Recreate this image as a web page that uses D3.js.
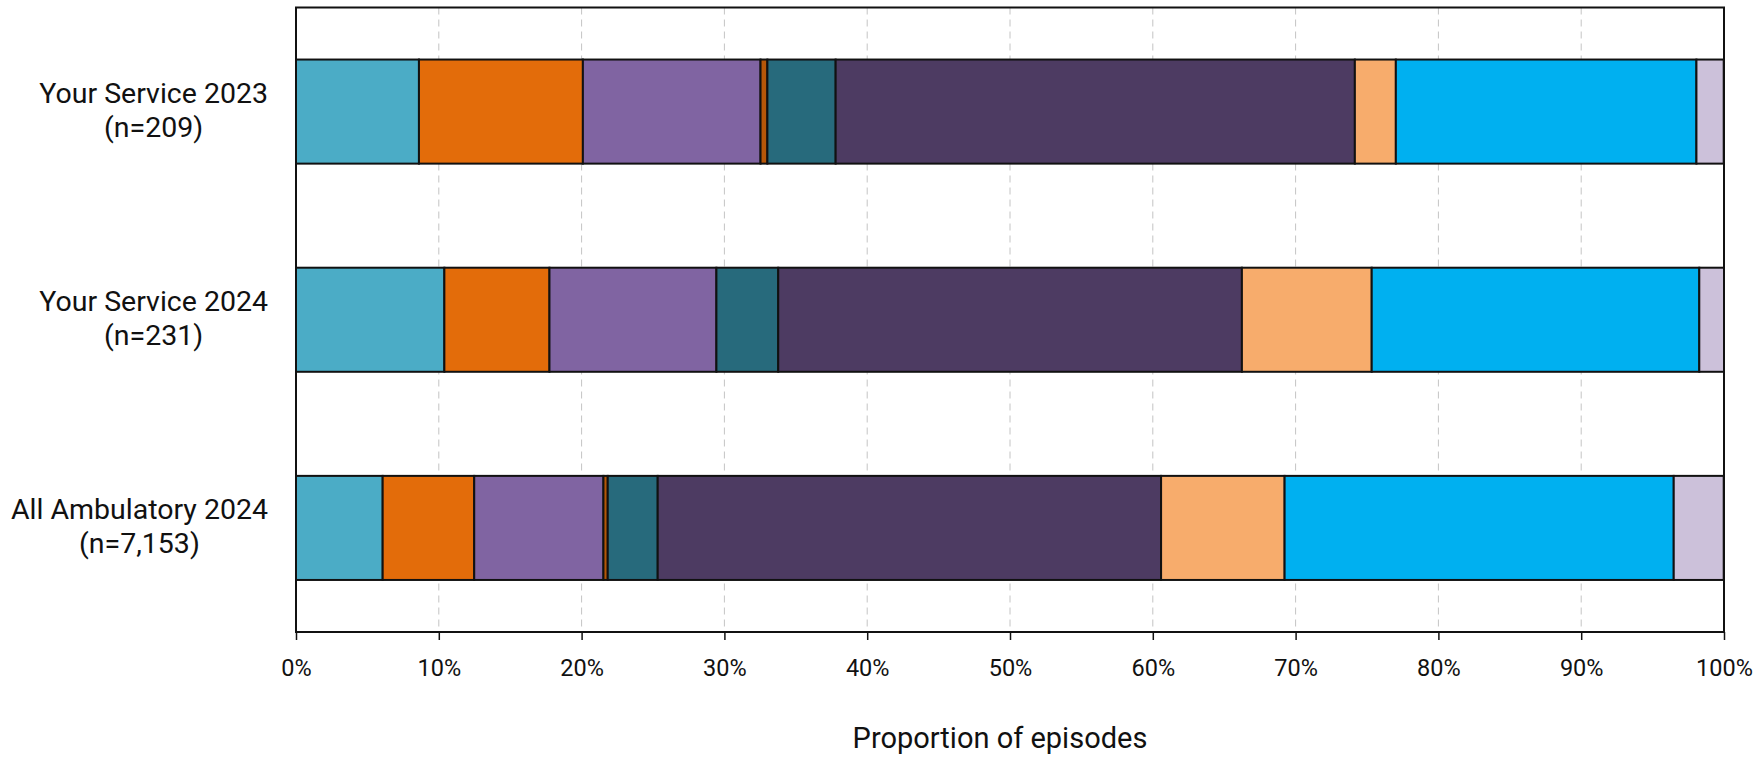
<!DOCTYPE html>
<html>
<head>
<meta charset="utf-8">
<script src="https://cdn.jsdelivr.net/npm/d3@7"></script>
<style>
  html, body { margin: 0; padding: 0; background: #ffffff; }
  svg { display: block; }
  text { font-family: Roboto, "Noto Sans", sans-serif; fill: #111; }
</style>
</head>
<body>
<svg id="chart" width="1758" height="764"></svg>
<script>
// ---- Data (percent of episodes) ----
const categories = ["Your Service 2023", "Your Service 2024", "All Ambulatory 2024"];
const sampleSizes = ["(n=209)", "(n=231)", "(n=7,153)"];
const seriesKeys = ["s1", "s2", "s3", "s4", "s5", "s6", "s7", "s8", "s9"];
const s1 = [8.61, 10.39, 6.07];
const s2 = [11.48, 7.36, 6.41];
const s3 = [12.44, 11.69, 9.05];
const s4 = [0.48, 0.0, 0.30];
const s5 = [4.78, 4.33, 3.50];
const s6 = [36.36, 32.47, 35.25];
const s7 = [2.87, 9.09, 8.65];
const s8 = [21.05, 22.94, 27.25];
const s9 = [1.91, 1.73, 3.50];
const seriesColors = ["#4BACC6", "#E36C0A", "#8064A2", "#B65708", "#276A7C",
                      "#4D3B62", "#F7AC6C", "#00B0F0", "#CCC1DA"];
const xTicks = [0, 10, 20, 30, 40, 50, 60, 70, 80, 90, 100];
const xTitle = "Proportion of episodes";

(function () {
// ---- Build table ----
const seriesValues = [s1, s2, s3, s4, s5, s6, s7, s8, s9];
const table = categories.map((c, i) => {
  const row = { category: c };
  seriesKeys.forEach((k, j) => { row[k] = seriesValues[j][i]; });
  return row;
});

const svg = d3.select("#chart");
const pLeft = 296, pRight = 1724, pTop = 7.5, pBottom = 632;

const x = d3.scaleLinear().domain([0, 100]).range([pLeft, pRight]);
const y = d3.scaleBand().domain(categories).range([pTop, pBottom])
  .paddingInner(0.5).paddingOuter(0.25);
const color = d3.scaleOrdinal().domain(seriesKeys).range(seriesColors);

// gridlines
svg.append("g")
  .selectAll("line")
  .data(xTicks.filter(t => t > 0 && t < 100))
  .join("line")
  .attr("x1", d => x(d)).attr("x2", d => x(d))
  .attr("y1", pTop).attr("y2", pBottom)
  .attr("stroke", "#c4c4c4")
  .attr("stroke-width", 1)
  .attr("stroke-dasharray", "7,5");

// stacked bars
const stacked = d3.stack().keys(seriesKeys)(table);
svg.append("g")
  .selectAll("g")
  .data(stacked)
  .join("g")
  .attr("fill", d => color(d.key))
  .selectAll("rect")
  .data(d => d.filter(p => p[1] - p[0] > 0))
  .join("rect")
  .attr("x", d => x(d[0]))
  .attr("width", d => x(d[1]) - x(d[0]))
  .attr("y", d => y(d.data.category))
  .attr("height", y.bandwidth())
  .attr("stroke", "#111")
  .attr("stroke-width", 2);

// frame
svg.append("rect")
  .attr("x", pLeft).attr("y", pTop)
  .attr("width", pRight - pLeft).attr("height", pBottom - pTop)
  .attr("fill", "none").attr("stroke", "#111").attr("stroke-width", 2);

// x axis
const xAxis = d3.axisBottom(x)
  .tickValues(xTicks)
  .tickFormat(d => d + "%")
  .tickSize(8)
  .tickPadding(12);
const gx = svg.append("g").attr("transform", `translate(0,${pBottom})`).call(xAxis);
gx.select(".domain").remove();
gx.selectAll(".tick line").attr("stroke", "#111").attr("stroke-width", 1.5);
gx.selectAll(".tick text")
  .attr("font-family", 'Roboto, "Noto Sans", sans-serif')
  .attr("font-size", 23.5)
  .attr("fill", "#111")
  .attr("dy", null)
  .attr("y", 44);

// x title
svg.append("text")
  .attr("x", (pLeft + pRight) / 2 - 10)
  .attr("y", 748)
  .attr("text-anchor", "middle")
  .attr("font-size", 29)
  .text(xTitle);

// y labels: two centred lines per category, block right-aligned
const labelRight = 268;
categories.forEach((c, i) => {
  const cy = y(c) + y.bandwidth() / 2;
  const t = svg.append("text")
    .attr("font-size", 28.5)
    .attr("text-anchor", "middle");
  const l1 = t.append("tspan").attr("y", cy - 8.5).text(c);
  const l2 = t.append("tspan").attr("y", cy + 25.5).text(sampleSizes[i]);
  const w = Math.max(l1.node().getComputedTextLength(), l2.node().getComputedTextLength());
  const cx = labelRight - w / 2;
  l1.attr("x", cx);
  l2.attr("x", cx);
});
})();
</script>
</body>
</html>
